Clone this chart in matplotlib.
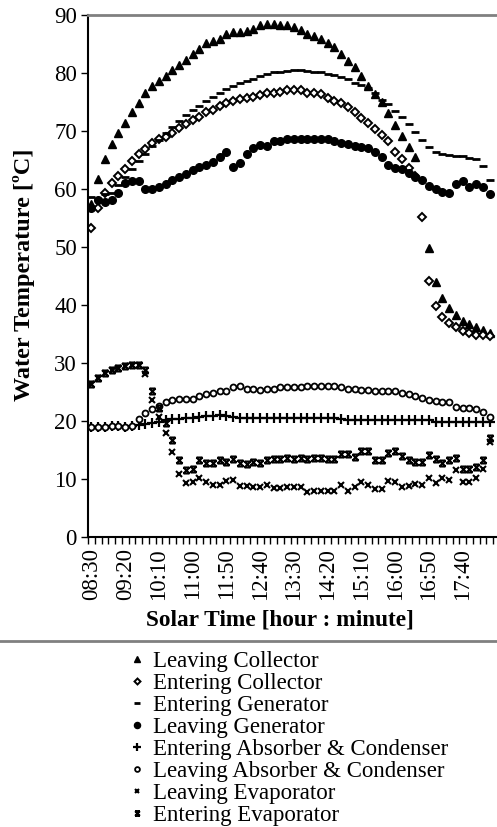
import matplotlib
matplotlib.use("Agg")
import matplotlib.pyplot as plt
import numpy as np
import pandas as pd
from matplotlib.path import Path

# solar time, every 10 minutes from 08:30
times = pd.date_range("2000-01-01 08:30", periods=60, freq="10min").strftime("%H:%M").tolist()
tick_labels = ["08:30", "09:20", "10:10", "11:00", "11:50", "12:40",
               "13:30", "14:20", "15:10", "16:00", "16:50", "17:40"]

nan = np.nan
leaving_collector = [57.5, 61.7, 65.2, 67.8, 69.6, 71.4, 73.3, 74.9, 76.6, 77.8,
                     78.6, 79.5, 80.5, 81.3, 82.3, 83.2, 84.1, 85.1, 85.6, 85.9,
                     86.8, 87.1, 87.1, 87.3, 87.6, 88.2, 88.4, 88.4, 88.2, 88.3,
                     87.9, 87.5, 86.7, 86.3, 85.8, 85.2, 84.4, 83.3, 82.1, 81.0,
                     79.4, 77.8, 76.4, 75.0, 73.1, 71.0, 69.1, 67.3, 65.5, nan,
                     49.8, 43.9, 41.2, 39.4, 38.2, 37.3, 36.7, 36.2, 35.7, 35.2]
entering_collector = [53.2, 56.8, 59.3, 61.0, 62.3, 63.4, 64.8, 66.0, 66.9, 67.9,
                      68.6, 69.0, 69.7, 70.5, 71.2, 71.9, 72.5, 73.2, 73.7, 74.3,
                      74.8, 75.2, 75.5, 75.7, 75.9, 76.2, 76.5, 76.6, 76.8, 77.0,
                      77.1, 77.1, 76.6, 76.5, 76.3, 75.7, 75.2, 74.9, 74.2, 73.3,
                      72.2, 71.4, 70.3, 69.3, 68.2, 66.4, 65.2, 63.7, 62.3, 55.2,
                      44.1, 39.9, 38.0, 36.9, 36.2, 35.6, 35.2, 34.9, 34.8, 34.6]
entering_generator = [58.7, 58.3, 59.1, 59.3, 60.7, 62.1, 63.4, 64.8, 66.1, 67.4,
                      68.4, 69.6, 70.7, 71.8, 72.8, 73.6, 74.3, 75.1, 75.8, 76.5,
                      77.2, 77.8, 78.2, 78.6, 79.0, 79.4, 79.8, 80.1, 80.2, 80.4,
                      80.5, 80.5, 80.4, 80.2, 80.1, 79.9, 79.7, 79.3, 78.9, 78.3,
                      77.9, 77.4, 76.5, 75.3, 74.6, 73.5, 72.4, 71.2, 69.9, 68.4,
                      67.3, 66.4, 66.0, 65.9, 65.7, 65.7, 65.4, 65.2, 64.0, 61.6]
leaving_generator = [56.8, 58.1, 57.7, 58.1, 59.3, 61.1, 61.3, 61.4, 60.0, 60.0,
                     60.3, 60.9, 61.6, 62.1, 62.6, 63.2, 63.8, 64.1, 64.7, 65.6,
                     66.4, 63.8, 64.5, 66.0, 67.0, 67.6, 67.4, 68.2, 68.2, 68.6,
                     68.7, 68.7, 68.7, 68.7, 68.7, 68.6, 68.3, 68.0, 67.8, 67.4,
                     67.3, 67.0, 66.4, 65.6, 64.1, 63.7, 63.4, 62.7, 62.1, 61.6,
                     60.5, 60.0, 59.4, 59.3, 60.9, 61.3, 60.3, 60.9, 60.4, 59.1]
entering_absorber = [19.0, 19.0, 19.0, 19.1, 19.1, 18.9, 19.1, 19.3, 19.5, 19.7,
                     19.9, 20.1, 20.3, 20.4, 20.5, 20.6, 20.7, 20.8, 20.8, 21.0,
                     20.9, 20.7, 20.6, 20.5, 20.5, 20.5, 20.5, 20.5, 20.5, 20.5,
                     20.5, 20.5, 20.5, 20.5, 20.5, 20.5, 20.5, 20.4, 20.2, 20.2,
                     20.2, 20.2, 20.2, 20.2, 20.2, 20.1, 20.1, 20.1, 20.1, 20.1,
                     20.1, 19.9, 19.9, 19.9, 19.9, 19.9, 19.8, 19.8, 19.8, 19.8]
leaving_absorber = [18.9, 19.0, 19.0, 19.1, 19.2, 18.9, 19.2, 20.3, 21.3, 22.1,
                    22.6, 23.2, 23.6, 23.8, 23.8, 23.8, 24.3, 24.7, 24.8, 25.2,
                    25.2, 25.9, 26.0, 25.5, 25.6, 25.4, 25.6, 25.6, 25.8, 25.9,
                    25.9, 25.9, 26.0, 26.0, 26.0, 26.0, 26.0, 25.8, 25.5, 25.5,
                    25.4, 25.3, 25.2, 25.2, 25.1, 25.1, 24.9, 24.7, 24.3, 24.0,
                    23.7, 23.4, 23.3, 23.2, 22.4, 22.3, 22.2, 22.0, 21.6, 20.7]
leaving_evaporator = [26.4, 27.5, 28.3, 28.8, 29.2, 29.5, 29.7, 29.7, 28.1, 23.7,
                      20.7, 17.9, 14.7, 10.9, 9.3, 9.4, 10.1, 9.5, 9.0, 9.0,
                      9.7, 9.8, 8.8, 8.8, 8.6, 8.6, 9.0, 8.4, 8.5, 8.6,
                      8.7, 8.6, 7.8, 8.0, 8.0, 8.0, 8.0, 9.0, 8.0, 8.6,
                      9.4, 9.0, 8.2, 8.2, 9.7, 9.5, 8.7, 8.8, 9.1, 9.0,
                      10.1, 9.3, 10.1, 9.9, 11.6, 9.4, 9.4, 10.1, 11.7, 16.3]
entering_evaporator = [26.4, 27.5, 28.3, 28.8, 29.2, 29.5, 29.7, 29.7, 28.8, 25.2,
                       22.2, 19.7, 16.7, 13.3, 11.5, 11.8, 13.2, 12.8, 12.7, 13.2,
                       13.0, 13.5, 12.7, 12.6, 13.0, 12.7, 13.3, 13.4, 13.4, 13.6,
                       13.4, 13.6, 13.4, 13.7, 13.7, 13.4, 13.4, 14.3, 14.3, 13.8,
                       14.8, 14.8, 13.3, 13.2, 14.4, 14.8, 14.0, 13.3, 13.0, 13.0,
                       14.1, 13.4, 12.7, 13.2, 13.7, 11.8, 11.8, 12.0, 13.2, 17.0]

plt.rcParams['font.family'] = ['Liberation Serif', 'DejaVu Serif']

# Excel-like "star" marker: x with bars top and bottom
M, L = Path.MOVETO, Path.LINETO
star = Path([(-1, -1), (1, 1), (-1, 1), (1, -1), (-1, 1), (1, 1), (-1, -1), (1, -1)],
            [M, L, M, L, M, L, M, L])

fig = plt.figure(figsize=(4.97, 8.27), dpi=100)
ax = fig.add_axes([88/497, 1-537/827, (497-88)/497, (537-15)/827])

x = np.arange(len(times))
series = [
    (leaving_collector, "Leaving Collector", dict(marker='^', ms=5.5, mfc='k', mec='k')),
    (entering_collector, "Entering Collector", dict(marker='D', ms=3.8, mfc='white', mec='k', mew=1.4)),
    (entering_generator, "Entering Generator", dict(marker='_', ms=6, mec='k', mew=2)),
    (leaving_generator, "Leaving Generator", dict(marker='o', ms=5.5, mfc='k', mec='k')),
    (entering_absorber, "Entering Absorber & Condenser", dict(marker='+', ms=6.5, mec='k', mew=1.6)),
    (leaving_absorber, "Leaving Absorber & Condenser", dict(marker='o', ms=4.3, mfc='white', mec='k', mew=1.3)),
    (leaving_evaporator, "Leaving Evaporator", dict(marker='x', ms=4.3, mec='k', mew=1.5)),
    (entering_evaporator, "Entering Evaporator", dict(marker=star, ms=4.3, mec='k', mew=1.5)),
]
for vals, name, style in series:
    ax.plot(x, vals, linestyle='none', label=name, **style)

# category axis: ticks between categories, a label every 5th point
ax.set_xlim(-0.5, 59.5 + 4/6.75)
ax.set_ylim(0, 90)
ax.set_yticks(range(0, 91, 10))
ax.set_xticks(np.arange(-0.5, len(times), 1), minor=False)
ax.set_xticklabels([])
ax.set_xticks([times.index(t) for t in tick_labels], minor=True)
ax.set_xticklabels(tick_labels, minor=True, rotation=90)
ax.tick_params(axis='x', which='major', direction='out', length=5, width=1)
ax.tick_params(axis='x', which='minor', length=0, pad=8, labelsize=16.5)
ax.tick_params(axis='y', direction='out', length=5, width=1, labelsize=16.5, pad=3)

for s in ['left', 'bottom']:
    ax.spines[s].set_linewidth(1.5)
ax.spines['right'].set_visible(False)
ax.spines['top'].set_color('#808080')
ax.spines['top'].set_linewidth(2)

fig.text(24/497, 1-275/827, "Water Temperature [ºC]", rotation=90, ha='center', va='center',
         fontsize=17.5, fontweight='bold')
fig.text(280/497, 1-620/827, "Solar Time [hour : minute]", ha='center', va='center',
         fontsize=16.8, fontweight='bold')

# legend box top border
fig.add_artist(plt.Line2D([0, 1], [1-641/827, 1-641/827], color='#808080', lw=2,
                          transform=fig.transFigure))
fig.legend(loc='upper left', bbox_to_anchor=(116/497, 1-640/827), frameon=False,
           fontsize=16.5, labelspacing=0.04, handlelength=0.8, handletextpad=0.3,
           markerscale=0.8, borderpad=0)

fig.savefig("out.png", dpi=100)
